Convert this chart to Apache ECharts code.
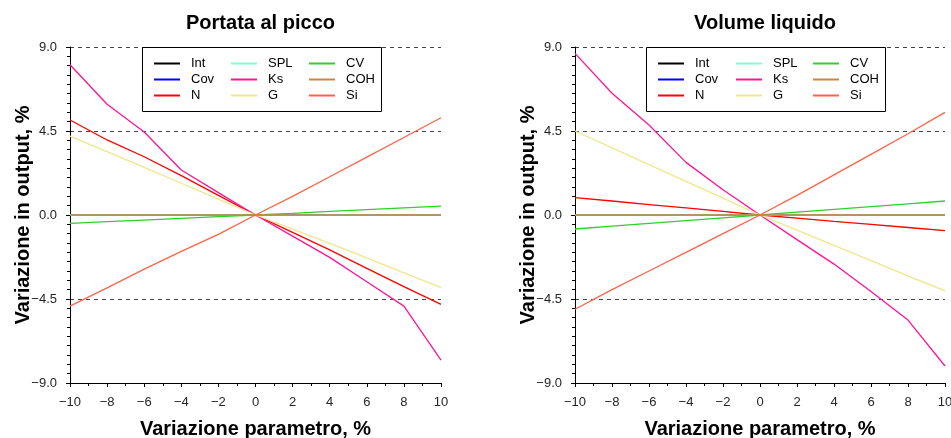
<!DOCTYPE html>
<html>
<head>
<meta charset="utf-8">
<script src="https://cdn.jsdelivr.net/npm/echarts@6/dist/echarts.min.js"></script>
<style>
  html, body { margin: 0; padding: 0; background: #fff; }
  #chart { width: 951px; height: 438px; }
</style>
</head>
<body>
<div id="chart"></div>
<script>
// Parameter variation (%) on the x axis
const paramVariation = [-10, -8, -6, -4, -2, 0, 2, 4, 6, 8, 10];

// Portata al picco: output variation (%) per parameter
const peakInt = [0, 0, 0, 0, 0, 0, 0, 0, 0, 0, 0];
const peakCov = [0, 0, 0, 0, 0, 0, 0, 0, 0, 0, 0];
const peakN   = [5.09, 4.02, 3.12, 2.11, 1.05, 0, -0.93, -1.87, -2.86, -3.84, -4.79];
const peakSPL = [0, 0, 0, 0, 0, 0, 0, 0, 0, 0, 0];
const peakKs  = [8.05, 5.93, 4.45, 2.41, 1.2, 0, -1.13, -2.27, -3.58, -4.88, -7.77];
const peakG   = [4.23, 3.4, 2.55, 1.7, 0.85, 0, -0.76, -1.52, -2.3, -3.1, -3.88];
const peakCV  = [-0.45, -0.36, -0.27, -0.18, -0.09, 0, 0.09, 0.19, 0.29, 0.38, 0.48];
const peakCOH = [0, 0, 0, 0, 0, 0, 0, 0, 0, 0, 0];
const peakSi  = [-4.88, -3.9, -2.9, -1.95, -1.04, 0, 1.0, 2.05, 3.1, 4.15, 5.21];

// Volume liquido: output variation (%) per parameter
const volInt = [0, 0, 0, 0, 0, 0, 0, 0, 0, 0, 0];
const volCov = [0, 0, 0, 0, 0, 0, 0, 0, 0, 0, 0];
const volN   = [0.93, 0.75, 0.56, 0.38, 0.19, 0, -0.17, -0.34, -0.5, -0.67, -0.84];
const volSPL = [0, 0, 0, 0, 0, 0, 0, 0, 0, 0, 0];
const volKs  = [8.66, 6.52, 4.82, 2.82, 1.35, 0, -1.32, -2.63, -4.1, -5.63, -8.09];
const volG   = [4.5, 3.6, 2.7, 1.8, 0.9, 0, -0.81, -1.63, -2.44, -3.26, -4.07];
const volCV  = [-0.75, -0.6, -0.45, -0.3, -0.15, 0, 0.15, 0.3, 0.45, 0.6, 0.75];
const volCOH = [0, 0, 0, 0, 0, 0, 0, 0, 0, 0, 0];
const volSi  = [-5.05, -4.0, -3.0, -2.0, -1.0, 0, 1.05, 2.15, 3.25, 4.35, 5.5];

const seriesNames = ['Int', 'Cov', 'N', 'SPL', 'Ks', 'G', 'CV', 'COH', 'Si'];
const seriesColors = ['#000000', '#0000ff', '#ff0000', '#7fffd4', '#ff1493', '#f0e68c', '#32cd32', '#cd853f', '#ff6347'];
const yTicks = [-9, -4.5, 0, 4.5, 9];
const chartTitles = ['Portata al picco', 'Volume liquido'];

const peakData = [peakInt, peakCov, peakN, peakSPL, peakKs, peakG, peakCV, peakCOH, peakSi];
const volData  = [volInt, volCov, volN, volSPL, volKs, volG, volCV, volCOH, volSi];

const FONT = 'Liberation Sans, Arial, sans-serif';
const minus = s => s.replace('-', '\u2212');

const grids = [
  { left: 70, right: 510, top: 47, bottom: 55, outerBoundsMode: 'none', containLabel: false },
  { left: 575, right: 6, top: 47, bottom: 55, outerBoundsMode: 'none', containLabel: false }
];

function xAxis(i) {
  return {
    type: 'value', gridIndex: i, min: -10, max: 10, interval: 2,
    name: 'Variazione parametro, %', nameLocation: 'middle', nameGap: 36, nameMoveOverlap: false,
    nameTextStyle: { fontFamily: FONT, fontSize: 20, fontWeight: 'bold', color: '#000' },
    axisLine: { show: true, onZero: false, lineStyle: { color: '#000', width: 1 } },
    axisTick: { show: true, length: 4, lineStyle: { color: '#000' } },
    minorTick: { show: true, splitNumber: 2, length: 3, lineStyle: { color: '#000' } },
    axisLabel: { fontFamily: FONT, fontSize: 13, color: '#262626', margin: 13,
      formatter: v => minus(String(v)) },
    splitLine: { show: false }
  };
}

function yAxis(i) {
  return {
    type: 'value', gridIndex: i, min: -9, max: 9, interval: 4.5,
    name: 'Variazione in output, %', nameLocation: 'middle', nameGap: 37, nameMoveOverlap: false,
    nameTextStyle: { fontFamily: FONT, fontSize: 20, fontWeight: 'bold', color: '#000' },
    axisLine: { show: true, onZero: false, lineStyle: { color: '#000', width: 1 } },
    axisTick: { show: true, length: 4, lineStyle: { color: '#000' } },
    minorTick: { show: true, splitNumber: 9, length: 3, lineStyle: { color: '#000' } },
    axisLabel: { fontFamily: FONT, fontSize: 13, color: '#262626', margin: 13,
      customValues: yTicks,
      formatter: v => minus(v.toFixed(1)) },
    splitLine: { show: true, lineStyle: { color: '#444', width: 1, type: [4, 4] } }
  };
}

function buildSeries(gridIdx, dataSet) {
  return seriesNames.map((name, k) => {
    const s = {
      name: name, type: 'line', xAxisIndex: gridIdx, yAxisIndex: gridIdx,
      data: paramVariation.map((x, j) => [x, dataSet[k][j]]),
      symbol: 'none', color: seriesColors[k],
      lineStyle: { width: 1.3, color: seriesColors[k] },
      animation: false, z: 2 + k
    };
    if (name === 'Si') {
      // dashed zero reference drawn over the flat series
      s.markLine = {
        silent: true, symbol: 'none', label: { show: false }, animation: false,
        lineStyle: { color: '#333', width: 1, type: [4, 4] },
        data: [{ yAxis: 0 }]
      };
    }
    return s;
  });
}

// Legend: three columns per chart, framed by a rectangle
const legendColumns = [['Int', 'Cov', 'N'], ['SPL', 'Ks', 'G'], ['CV', 'COH', 'Si']];
const legendLefts = [[154, 231, 309], [658, 736, 813]];
const legends = [];
legendLefts.forEach(cols => {
  cols.forEach((left, c) => {
    legends.push({
      orient: 'vertical', left: left, top: 57, padding: 0,
      itemWidth: 26, itemHeight: 2, itemGap: 3, icon: 'rect',
      selectedMode: false,
      textStyle: { fontFamily: FONT, fontSize: 13, color: '#000', lineHeight: 13, padding: [0, 0, 0, 6] },
      data: legendColumns[c]
    });
  });
});

const option = {
  backgroundColor: '#fff',
  animation: false,
  title: [
    { text: chartTitles[0], left: 255.5, top: 8, textAlign: 'center',
      textStyle: { fontFamily: FONT, fontSize: 20, fontWeight: 'bold', color: '#000' } },
    { text: chartTitles[1], left: 760, top: 8, textAlign: 'center',
      textStyle: { fontFamily: FONT, fontSize: 20, fontWeight: 'bold', color: '#000' } }
  ],
  grid: grids,
  xAxis: [xAxis(0), xAxis(1)],
  yAxis: [yAxis(0), yAxis(1)],
  legend: legends,
  graphic: [
    { type: 'rect', shape: { x: 142.5, y: 47.5, width: 239, height: 64 }, z: 50,
      style: { fill: 'rgba(0,0,0,0)', stroke: '#000', lineWidth: 1 } },
    { type: 'rect', shape: { x: 646.5, y: 47.5, width: 239, height: 64 }, z: 50,
      style: { fill: 'rgba(0,0,0,0)', stroke: '#000', lineWidth: 1 } }
  ],
  series: buildSeries(0, peakData).concat(buildSeries(1, volData))
};

const chart = echarts.init(document.getElementById('chart'), null, { renderer: 'canvas' });
chart.setOption(option);
</script>
</body>
</html>
